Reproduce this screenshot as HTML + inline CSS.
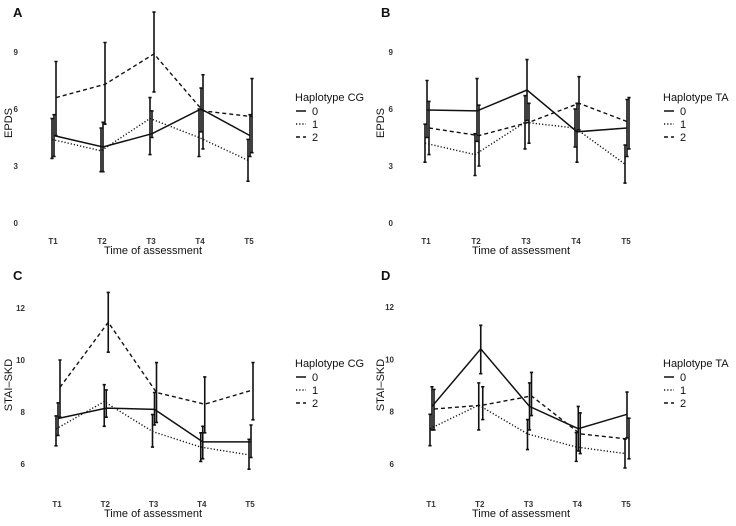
<!DOCTYPE html>
<html><head><meta charset="utf-8"><style>
html,body{margin:0;padding:0;background:#fff}
svg{display:block;font-family:"Liberation Sans",Arial,sans-serif}
</style></head><body>
<svg id="chart" width="736" height="526" viewBox="0 0 736 526"></svg>
<script>
const timepoints = ["T1","T2","T3","T4","T5"];
const groupLabels = ["0","1","2"];
// Panel A: EPDS by Haplotype CG
const aMean0 = [4.6,4.0,4.7,6.0,4.6];
const aLo0 = [3.5,2.7,4.5,4.8,3.5];
const aHi0 = [5.7,5.3,5.9,7.1,5.7];
const aMean1 = [4.4,3.8,5.5,4.5,3.3];
const aLo1 = [3.4,2.7,3.6,3.5,2.2];
const aHi1 = [5.5,5.0,6.6,6.0,4.4];
const aMean2 = [6.6,7.3,8.9,5.9,5.6];
const aLo2 = [4.6,5.2,6.9,3.9,3.7];
const aHi2 = [8.5,9.5,11.1,7.8,7.6];
// Panel B: EPDS by Haplotype TA
const bMean0 = [5.95,5.9,7.0,4.8,5.0];
const bLo0 = [4.5,4.3,5.4,3.2,3.5];
const bHi0 = [7.5,7.6,8.6,6.3,6.5];
const bMean1 = [4.2,3.6,5.3,5.0,3.1];
const bLo1 = [3.2,2.5,3.9,4.0,2.1];
const bHi1 = [5.2,4.7,6.7,6.0,4.1];
const bMean2 = [5.0,4.6,5.3,6.3,5.3];
const bLo2 = [3.6,3.0,4.2,4.9,3.9];
const bHi2 = [6.4,6.2,6.3,7.7,6.6];
// Panel C: STAI-SKD by Haplotype CG
const cMean0 = [7.75,8.15,8.1,6.85,6.85];
const cLo0 = [7.1,7.8,7.5,6.2,6.25];
const cHi0 = [8.35,8.85,8.75,7.45,7.5];
const cMean1 = [7.35,8.4,7.25,6.65,6.35];
const cLo1 = [6.7,7.45,6.65,6.1,5.8];
const cHi1 = [7.85,9.05,7.9,7.2,6.95];
const cMean2 = [8.95,11.45,8.75,8.3,8.85];
const cLo2 = [7.8,10.3,7.6,7.2,7.7];
const cHi2 = [10.0,12.6,9.9,9.35,9.9];
// Panel D: STAI-SKD by Haplotype TA
const dMean0 = [8.2,10.4,8.2,7.35,7.9];
const dLo0 = [7.3,9.45,7.3,6.5,7.0];
const dHi0 = [8.95,11.3,9.1,8.2,8.75];
const dMean1 = [7.35,8.25,7.15,6.65,6.4];
const dLo1 = [6.7,7.3,6.55,6.1,5.85];
const dHi1 = [7.9,9.1,7.7,7.2,6.95];
const dMean2 = [8.1,8.25,8.6,7.15,6.95];
const dLo2 = [7.3,7.7,7.85,6.4,6.2];
const dHi2 = [8.85,8.95,9.5,7.95,7.75];
const epdsTicks = [0,3,6,9];
const staiTicks = [6,8,10,12];

const NS="http://www.w3.org/2000/svg";
const svg=document.getElementById('chart');
function mk(tag,attrs,parent){const e=document.createElementNS(NS,tag);for(const k in attrs)e.setAttribute(k,attrs[k]);(parent||svg).appendChild(e);return e;}
const dashes=["", "1.2,2", "4,3"];

function panel(o){
  const g=mk('g',{});
  
  
  const xs=i=>o.x0+i*(o.x1-o.x0)/(timepoints.length-1);
  const ys=v=>o.yb-(v-o.vb)*(o.yt-o.yb)/(o.vb-o.vt);
  const L=mk('text',{x:o.ox+13,y:o.oy+17,'font-size':13,'font-weight':'bold',fill:'#111'},g);L.textContent=o.letter;
  
  
  o.ticks.forEach(t=>{const e=mk('text',{x:o.ox+o.tickX,y:ys(t)+3,'font-size':8,'text-anchor':'end',fill:'#333','font-weight':'bold'},g);e.textContent=t;
    
    });
  timepoints.forEach((t,i)=>{const e=mk('text',{x:xs(i)-1,y:o.oy+244,'font-size':8,'text-anchor':'middle',fill:'#333','font-weight':'bold'},g);e.textContent=t;
    
    });
  const xt=mk('text',{x:o.ox+153,y:o.oy+254,'font-size':11,'text-anchor':'middle',fill:'#111'},g);xt.textContent="Time of assessment";
  
  
  const yt=mk('text',{x:0,y:0,'font-size':11,'text-anchor':'middle',fill:'#111',transform:`translate(${o.ox+o.ytX},${o.oy+o.ytY}) rotate(-90)`},g);yt.textContent=o.ylab;
  
  
  const off=[0,-2,2];
  o.series.forEach((s,gi)=>{
    const pts=s.m.map((v,i)=>`${xs(i)+off[gi]},${ys(v)}`).join(' ');
    const pl=mk('polyline',{points:pts,fill:'none',stroke:'#111','stroke-width':gi==0?1.5:1.4,'stroke-dasharray':dashes[gi]},g);
    
    
    s.m.forEach((v,i)=>{
      const x=xs(i)+off[gi];
      const eb=mk('path',{d:`M${x},${ys(s.lo[i])}V${ys(s.hi[i])}M${x-1.6},${ys(s.lo[i])}H${x+1.6}M${x-1.6},${ys(s.hi[i])}H${x+1.6}`,stroke:'#111','stroke-width':1.6,fill:'none'},g);
      
      
    });
  });
  const lx=o.ox+295, ly=o.oy+o.legY;
  const lt=mk('text',{x:lx,y:ly,'font-size':11,fill:'#111'},g);lt.textContent=o.legTitle;
  
  
  groupLabels.forEach((lab,gi)=>{
    const yy=ly+14+gi*13;
    const ln=mk('line',{x1:lx+1,x2:lx+11,y1:yy-4,y2:yy-4,stroke:'#111','stroke-width':1.5,'stroke-dasharray':dashes[gi]},g);
    
    
    const tx=mk('text',{x:lx+17,y:yy,'font-size':11,fill:'#111'},g);tx.textContent=lab;
    
    
  });
}
panel({letter:'A',ox:0,oy:0,x0:54,x1:250,yb:223,vb:0,yt:52,vt:9,ticks:epdsTicks,tickX:18,ytX:12,ylab:'EPDS',ytY:123,legTitle:'Haplotype CG',legY:101,
  series:[{m:aMean0,lo:aLo0,hi:aHi0},{m:aMean1,lo:aLo1,hi:aHi1},{m:aMean2,lo:aLo2,hi:aHi2}]});
panel({letter:'B',ox:368,oy:0,x0:427,x1:627,yb:223,vb:0,yt:52,vt:9,ticks:epdsTicks,tickX:25,ytX:16,ylab:'EPDS',ytY:123,legTitle:'Haplotype TA',legY:101,
  series:[{m:bMean0,lo:bLo0,hi:bHi0},{m:bMean1,lo:bLo1,hi:bHi1},{m:bMean2,lo:bLo2,hi:bHi2}]});
panel({letter:'C',ox:0,oy:263,x0:58,x1:251,yb:464,vb:6,yt:308,vt:12,ticks:staiTicks,tickX:25,ytX:12,ylab:'STAI\u2013SKD',ytY:122,legTitle:'Haplotype CG',legY:104,
  series:[{m:cMean0,lo:cLo0,hi:cHi0},{m:cMean1,lo:cLo1,hi:cHi1},{m:cMean2,lo:cLo2,hi:cHi2}]});
panel({letter:'D',ox:368,oy:263,x0:432,x1:627,yb:464,vb:6,yt:307,vt:12,ticks:staiTicks,tickX:26,ytX:16,ylab:'STAI\u2013SKD',ytY:122,legTitle:'Haplotype TA',legY:104,
  series:[{m:dMean0,lo:dLo0,hi:dHi0},{m:dMean1,lo:dLo1,hi:dHi1},{m:dMean2,lo:dLo2,hi:dHi2}]});
</script>
</body></html>
